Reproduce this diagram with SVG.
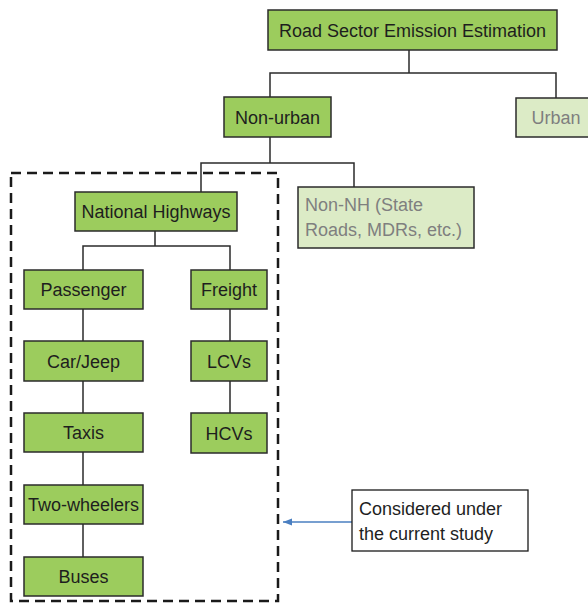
<svg xmlns="http://www.w3.org/2000/svg" width="588" height="603" viewBox="0 0 588 603">
<style>
.g{fill:#9ccc5d;stroke:#2b2b2b;stroke-width:1.5}
.l{fill:#dcebc6;stroke:#2b2b2b;stroke-width:1.5}
.t{font-family:"Liberation Sans",Arial,sans-serif;font-size:18px;fill:#1e1e1e;text-anchor:middle}
.tl{font-family:"Liberation Sans",Arial,sans-serif;font-size:18px;fill:#7f7f7f}
.c{fill:none;stroke:#2b2b2b;stroke-width:1.5}
</style>
<defs>
<marker id="ah" markerWidth="10" markerHeight="8" refX="9" refY="4" orient="auto" markerUnits="userSpaceOnUse">
<path d="M0,0.5 L9,4 L0,7.5 Z" fill="#4a7fc1"/>
</marker>
</defs>
<rect width="588" height="603" fill="#fff"/>
<g id="connectors">
<path class="c" d="M409,50 V73 M270,97 V73 H556 V98"/>
<path class="c" d="M270,137 V163 M201,192 V163 H354 V187"/>
<path class="c" d="M155,231 V246 M83,270 V246 H230 V270"/>
<path class="c" d="M83,309 V341 M83,381 V413 M83,452 V485 M83,524 V557"/>
<path class="c" d="M230,309 V341 M230,381 V413"/>
<line x1="352" y1="522" x2="283" y2="522" stroke="#4a7fc1" stroke-width="1.3" marker-end="url(#ah)"/>
</g>
<g id="scope">
<rect x="11" y="173" width="267" height="428" fill="none" stroke="#1a1a1a" stroke-width="2.5" stroke-dasharray="10,6"/>
</g>
<g id="root"><rect class="g" x="268" y="10" width="289" height="40"/><text class="t" x="412.5" y="36.5">Road Sector Emission Estimation</text></g>
<g id="nonurban"><rect class="g" x="224" y="97" width="107" height="40"/><text class="t" x="277.5" y="123.5">Non-urban</text></g>
<g id="urban"><rect class="l" x="516" y="98" width="82" height="39"/><text class="tl" x="556" y="124" text-anchor="middle">Urban</text></g>
<g id="nh"><rect class="g" x="75" y="192" width="162" height="39"/><text class="t" x="156" y="218">National Highways</text></g>
<g id="nonnh"><rect class="l" x="298" y="187" width="176" height="61"/><text class="tl" x="305" y="211">Non-NH (State</text><text class="tl" x="305" y="236">Roads, MDRs, etc.)</text></g>
<g id="passenger"><rect class="g" x="24" y="270" width="119" height="39"/><text class="t" x="83.5" y="296">Passenger</text></g>
<g id="freight"><rect class="g" x="191" y="270" width="76" height="39"/><text class="t" x="229" y="296">Freight</text></g>
<g id="carjeep"><rect class="g" x="24" y="341" width="119" height="40"/><text class="t" x="83.5" y="367.5">Car/Jeep</text></g>
<g id="lcvs"><rect class="g" x="191" y="341" width="76" height="40"/><text class="t" x="229" y="367.5">LCVs</text></g>
<g id="taxis"><rect class="g" x="24" y="413" width="119" height="39"/><text class="t" x="83.5" y="439">Taxis</text></g>
<g id="hcvs"><rect class="g" x="191" y="413" width="76" height="40"/><text class="t" x="229" y="439.5">HCVs</text></g>
<g id="twowheelers"><rect class="g" x="24" y="485" width="119" height="39"/><text class="t" x="83.5" y="511">Two-wheelers</text></g>
<g id="buses"><rect class="g" x="24" y="557" width="119" height="39"/><text class="t" x="83.5" y="583">Buses</text></g>
<g id="legend"><rect x="352" y="490" width="176" height="61" fill="#fff" stroke="#1a1a1a" stroke-width="1.3"/><text class="tl" x="359" y="515" style="fill:#1e1e1e">Considered under</text><text class="tl" x="359" y="540" style="fill:#1e1e1e">the current study</text></g>
</svg>
